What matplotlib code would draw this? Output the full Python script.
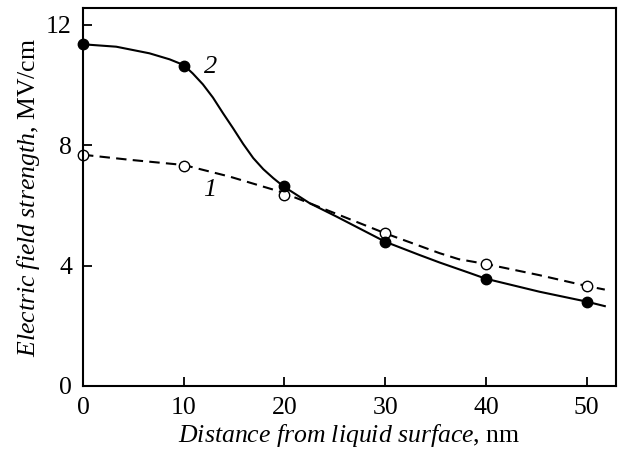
import matplotlib
matplotlib.use("Agg")
import matplotlib.pyplot as plt

plt.rcParams['font.family'] = 'Liberation Serif'
plt.rcParams['mathtext.fontset'] = 'custom'
plt.rcParams['mathtext.rm'] = 'Liberation Serif'
plt.rcParams['mathtext.it'] = 'Liberation Serif:italic'

# measured points
dist = [0, 10, 20, 30, 40, 50]
field_1 = [7.68, 7.32, 6.35, 5.07, 4.04, 3.33]   # open circles
field_2 = [11.35, 10.64, 6.64, 4.77, 3.55, 2.80]  # filled circles

# smooth curves
curve1_x = [0, 4.7, 10, 14.6, 19.5, 22.5, 25.2, 30, 35.4, 37.3, 40, 45.3, 50, 51.8]
curve1_y = [7.68, 7.51, 7.34, 6.95, 6.46, 6.07, 5.71, 5.07, 4.41, 4.21, 4.05, 3.68, 3.32, 3.20]

curve2_x = [0, 3.3, 6.6, 8.6, 10, 10.9, 11.9, 12.9, 13.9, 14.9, 15.9, 16.9, 17.9, 18.9,
            19.9, 21.2, 22.5, 25.2, 30, 33.4, 35.4, 38.4, 40, 45.3, 50, 51.8]
curve2_y = [11.35, 11.27, 11.05, 10.85, 10.66, 10.38, 10.02, 9.58, 9.06, 8.56, 8.04, 7.57, 7.20, 6.90,
            6.63, 6.35, 6.07, 5.62, 4.79, 4.35, 4.10, 3.75, 3.56, 3.13, 2.80, 2.65]

fig = plt.figure(figsize=(6.24, 4.54), dpi=100)
ax = fig.add_axes([0.133, 0.150, 0.854, 0.832])

ax.plot(curve1_x, curve1_y, color='black', lw=1.5, dashes=(5, 3))
ax.plot(curve2_x, curve2_y, color='black', lw=1.5, solid_joinstyle='round')
ax.plot(dist, field_1, 'o', ms=7.5, mfc='white', mec='black', mew=1.0, clip_on=False)
ax.plot(dist, field_2, 'o', ms=7.5, mfc='black', mec='black', clip_on=False)

ax.text(12.6, 6.5, '1', fontsize=19, style='italic', ha='center', va='center')
ax.text(12.7, 10.6, '2', fontsize=19, style='italic', ha='center', va='center')

ax.set_xlim(0, 52.9)
ax.set_ylim(0, 12.55)
ax.set_xticks([0, 10, 20, 30, 40, 50])
ax.set_yticks([0, 4, 8, 12])
ax.tick_params(direction='in', length=6.5, width=1.3, labelsize=18.5)
ax.tick_params(axis='x', pad=8)
ax.tick_params(axis='y', pad=8)
for s in ax.spines.values():
    s.set_linewidth(1.5)

ax.set_xlabel(r'$\mathit{Distance\ from\ liquid\ surface}$, nm', fontsize=18.5, labelpad=2)
ax.set_ylabel(r'$\mathit{Electric\ field\ strength}$, MV/cm', fontsize=18.5, labelpad=3)

fig.savefig('out.png', dpi=100)
